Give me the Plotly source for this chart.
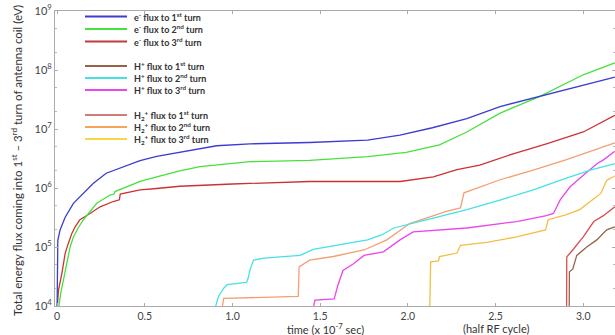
import plotly.graph_objects as go

# ---- data (time in 1e-7 s, energy flux in eV) ----
e1_x = [0.0, 0.004, 0.017, 0.046, 0.093, 0.15, 0.207, 0.28, 0.378, 0.473, 0.568, 0.70, 0.91, 1.1, 1.44, 1.77, 1.955, 2.14, 2.336, 2.526, 2.75, 3.0, 3.18]
e1_y = [9.0e3, 1.3e5, 1.95e5, 3.2e5, 5.5e5, 8.1e5, 1.2e6, 1.78e6, 2.3e6, 2.9e6, 3.45e6, 4.0e6, 5.2e6, 5.6e6, 5.9e6, 6.5e6, 7.9e6, 1.05e7, 1.5e7, 2.4e7, 3.55e7, 5.4e7, 7.6e7]

e2_x = [0.008, 0.02, 0.036, 0.055, 0.074, 0.093, 0.12, 0.15, 0.188, 0.226, 0.302, 0.325, 0.33, 0.4, 0.473, 0.568, 0.70, 0.815, 1.1, 1.44, 1.77, 1.99, 2.18, 2.336, 2.526, 2.75, 3.0, 3.18]
e2_y = [9.0e3, 1.6e4, 2.75e4, 5.2e4, 1.0e5, 1.48e5, 2.1e5, 2.9e5, 4.0e5, 5.5e5, 7.6e5, 7.9e5, 8.7e5, 1.05e6, 1.29e6, 1.55e6, 1.95e6, 2.3e6, 2.8e6, 2.95e6, 3.4e6, 4.0e6, 5.4e6, 8.9e6, 1.86e7, 3.55e7, 8.3e7, 1.32e8]

e3_x = [0.0, 0.008, 0.027, 0.046, 0.064, 0.084, 0.103, 0.13, 0.188, 0.245, 0.32, 0.355, 0.36, 0.473, 0.568, 0.70, 1.0, 1.44, 1.955, 2.145, 2.28, 2.41, 2.6, 2.79, 3.0, 3.18]
e3_y = [9.0e3, 1.86e4, 3.55e4, 7.8e4, 1.15e5, 1.7e5, 2.2e5, 2.9e5, 3.7e5, 4.8e5, 5.9e5, 6.3e5, 7.9e5, 9.3e5, 9.8e5, 1.07e6, 1.17e6, 1.29e6, 1.29e6, 1.55e6, 2.05e6, 2.45e6, 3.8e6, 5.6e6, 8.9e6, 1.7e7]

h1_x = [2.92, 2.921, 2.94, 2.963, 3.02, 3.077, 3.134, 3.18]
h1_y = [9.0e3, 3.8e4, 4.2e4, 7.2e4, 1.0e5, 1.32e5, 1.95e5, 2.2e5]

h2_x = [0.9, 0.92, 0.95, 0.97, 1.08, 1.09, 1.1, 1.12, 1.18, 1.385, 1.46, 1.77, 1.85, 1.92, 2.145, 2.336, 2.53, 2.715, 2.9, 3.04, 3.18]
h2_y = [9.0e3, 1.45e4, 2.0e4, 2.3e4, 2.5e4, 3.0e4, 4.1e4, 6.0e4, 6.5e4, 7.2e4, 9.1e4, 1.32e5, 1.6e5, 2.1e5, 3.1e5, 4.3e5, 6.3e5, 9.3e5, 1.45e6, 2.0e6, 2.6e6]

h3_x = [1.46, 1.47, 1.58, 1.6, 1.63, 1.69, 1.75, 1.86, 1.955, 2.03, 2.336, 2.62, 2.79, 2.83, 2.87, 2.925, 3.0, 3.08, 3.115, 3.18]
h3_y = [9.0e3, 1.26e4, 1.32e4, 2.2e4, 4.0e4, 5.2e4, 7.2e4, 8.3e4, 1.32e5, 1.8e5, 2.1e5, 2.7e5, 3.4e5, 3.7e5, 6.4e5, 1.05e6, 1.65e6, 2.6e6, 3.0e6, 4.2e6]

d1_x = [2.905, 2.906, 2.94, 3.0, 3.06, 3.115, 3.18]
d1_y = [9.0e3, 6.8e4, 8.9e4, 1.48e5, 2.7e5, 3.4e5, 4.8e5]

d2_x = [0.94, 0.95, 1.375, 1.38, 1.44, 1.575, 1.75, 1.88, 2.01, 2.22, 2.3, 2.32, 2.526, 2.715, 2.9, 3.06, 3.18]
d2_y = [9.0e3, 1.35e4, 1.45e4, 4.6e4, 6.0e4, 6.9e4, 8.9e4, 1.32e5, 2.5e5, 4.0e5, 4.6e5, 8.3e5, 1.38e6, 2.0e6, 3.0e6, 4.4e6, 5.8e6]

d3_x = [2.08, 2.125, 2.13, 2.175, 2.18, 2.28, 2.3, 2.45, 2.62, 2.785, 2.8, 2.9, 2.98, 3.1, 3.134, 3.18]
d3_y = [9.5e3, 9.5e3, 5.6e4, 5.8e4, 6.9e4, 7.9e4, 1.07e5, 1.2e5, 1.48e5, 1.95e5, 2.9e5, 3.5e5, 4.3e5, 8.1e5, 1.35e6, 1.6e6]

names = [
    "e<sup>-</sup> flux to 1<sup>st</sup> turn",
    "e<sup>-</sup> flux to 2<sup>nd</sup> turn",
    "e<sup>-</sup> flux to 3<sup>rd</sup> turn",
    "H<sup>+</sup> flux to 1<sup>st</sup> turn",
    "H<sup>+</sup> flux to 2<sup>nd</sup> turn",
    "H<sup>+</sup> flux to 3<sup>rd</sup> turn",
    "H<sub>2</sub><sup>+</sup> flux to 1<sup>st</sup> turn",
    "H<sub>2</sub><sup>+</sup> flux to 2<sup>nd</sup> turn",
    "H<sub>2</sub><sup>+</sup> flux to 3<sup>rd</sup> turn",
]
colors = ["rgb(60,60,210)", "rgb(70,225,60)", "rgb(205,50,50)",
          "rgb(150,100,70)", "rgb(70,225,230)", "rgb(235,70,235)",
          "rgb(215,80,80)", "rgb(242,160,115)", "rgb(242,190,70)"]
legend_colors = ["rgb(60,60,210)", "rgb(70,225,60)", "rgb(190,60,60)",
                 "rgb(150,100,70)", "rgb(70,225,230)", "rgb(235,70,235)",
                 "rgb(205,125,120)", "rgb(245,165,90)", "rgb(248,215,70)"]

xs = [e1_x, e2_x, e3_x, h1_x, h2_x, h3_x, d1_x, d2_x, d3_x]
ys = [e1_y, e2_y, e3_y, h1_y, h2_y, h3_y, d1_y, d2_y, d3_y]

x_ticks = [0, 0.5, 1.0, 1.5, 2.0, 2.5, 3.0]
x_ticktext = ["0", "0.5", "1.0", "1.5", "2.0", "2.5", "3.0"]
y_ticks = [1e4, 1e5, 1e6, 1e7, 1e8, 1e9]
y_ticktext = ["10<sup>4</sup>", "10<sup>5</sup>", "10<sup>6</sup>", "10<sup>7</sup>", "10<sup>8</sup>", "10<sup>9</sup>"]

FONT = "Lato, 'Open Sans', sans-serif"
W, H = 615, 335
ML, MR, MT, MB = 55, 0, 11, 29

fig = go.Figure()
# draw order: ions first so electrons sit on top
order = [3, 6, 8, 5, 7, 4, 2, 1, 0]
for i in order:
    fig.add_trace(go.Scatter(x=xs[i], y=ys[i], mode="lines", name=names[i],
                             line=dict(color=colors[i], width=1.3), showlegend=False))

fig.update_layout(
    width=W, height=H,
    margin=dict(l=ML, r=MR, t=MT, b=MB),
    paper_bgcolor="white", plot_bgcolor="white",
    font=dict(family=FONT, color="#444", size=11),
    showlegend=False,
)
fig.update_xaxes(
    range=[-0.012, 3.181], tickvals=x_ticks, ticktext=x_ticktext,
    showgrid=False, zeroline=False, showline=True, linecolor="#aaa", linewidth=1,
    mirror="ticks", ticks="inside", ticklen=3, tickcolor="#aaa",
    tickfont=dict(size=10.5, color="#444", family=FONT),
)
fig.update_yaxes(
    type="log", range=[4, 9], tickvals=y_ticks, ticktext=y_ticktext,
    showgrid=False, zeroline=False, showline=True, linecolor="#aaa", linewidth=1,
    mirror="ticks", ticks="inside", ticklen=3, tickcolor="#aaa",
    tickfont=dict(size=11, color="#444", family=FONT),
    minor=dict(ticks="inside", ticklen=2, tickcolor="#bbb",
               tickvals=[m * 10 ** k for k in range(4, 9) for m in (2, 5)]),
)

# manual legend
pw = W - ML - MR
ph = H - MT - MB
def px_to_paper_x(px):
    return (px - ML) / pw
def px_to_paper_y(py):
    return (H - MB - py) / ph

rows = [16.5, 29, 41.5, 66, 78, 90, 115, 127, 139]
for i, ry in enumerate(rows):
    yy = px_to_paper_y(ry)
    fig.add_shape(type="line", xref="paper", yref="paper",
                  x0=px_to_paper_x(85), x1=px_to_paper_x(127), y0=yy, y1=yy,
                  line=dict(color=legend_colors[i], width=2))
    fig.add_annotation(xref="paper", yref="paper", x=px_to_paper_x(132), y=yy,
                       xanchor="left", yanchor="middle", showarrow=False,
                       text="<b>" + names[i] + "</b>",
                       font=dict(size=9, color="#333", family=FONT))

# axis titles
fig.add_annotation(xref="paper", yref="paper", x=px_to_paper_x(16), y=px_to_paper_y(161),
                   xanchor="center", yanchor="middle", showarrow=False, textangle=-90,
                   text="Total energy flux coming into 1<sup>st</sup> – 3<sup>rd</sup> turn of antenna coil (eV)",
                   font=dict(size=11.5, color="#333", family=FONT))
fig.add_annotation(xref="x", yref="paper", x=1.53, y=px_to_paper_y(328),
                   xanchor="center", yanchor="middle", showarrow=False,
                   text="time (x 10<sup>-7</sup> sec)",
                   font=dict(size=11, color="#333", family=FONT))
fig.add_annotation(xref="x", yref="paper", x=2.5, y=px_to_paper_y(328.5),
                   xanchor="center", yanchor="middle", showarrow=False,
                   text="(half RF cycle)",
                   font=dict(size=11, color="#333", family=FONT))

fig.write_html("out.html")
